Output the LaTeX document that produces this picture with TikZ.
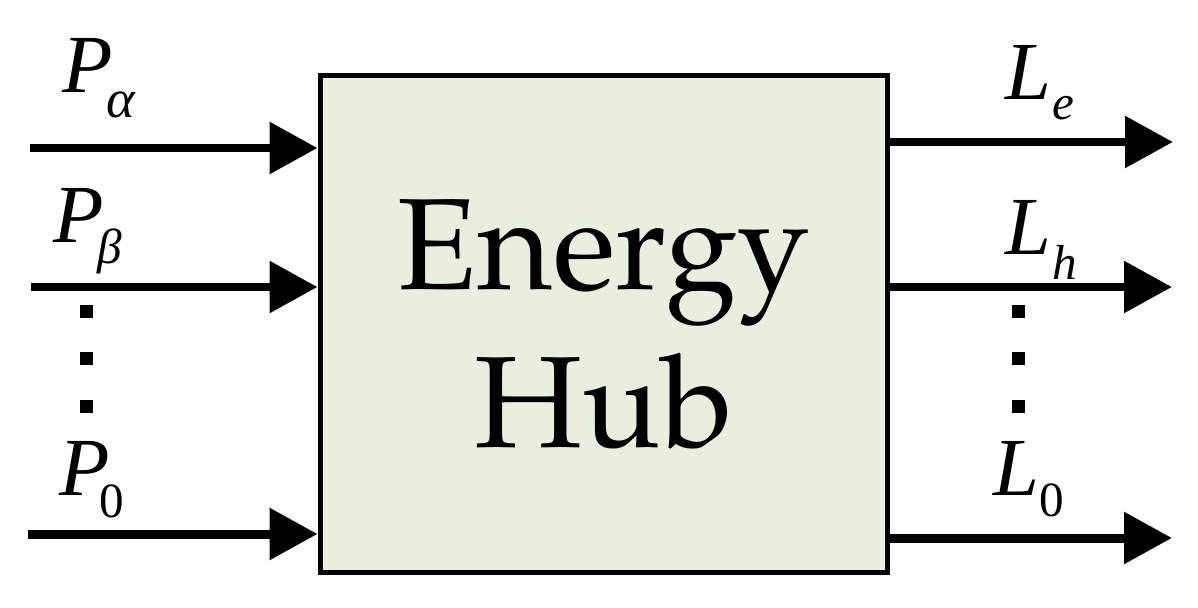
\documentclass[tikz,border=0pt]{standalone}
\usepackage{fontspec}
\setmainfont{Liberation Serif}
\newfontfamily\hubfont{TeX Gyre Pagella}
\usetikzlibrary{arrows.meta,positioning,calc}
\definecolor{hubgreen}{RGB}{232,239,222}
% label with a lowered subscript: main, sub, shift right, drop
\newcommand{\sublabel}[4]{\makebox[0pt][l]{\fontsize{47}{47}\selectfont\itshape #1}\hspace*{#3}\raisebox{-#4}{#2}}
\newcommand{\lettersub}[2][28]{\fontsize{#1}{#1}\selectfont\itshape #2}
\newcommand{\zerosub}{\fontsize{28}{28}\selectfont 0}

\begin{document}
\begin{tikzpicture}[x=0.02cm,y=-0.02cm,
    flow/.style={line width=0.18cm,-{Triangle[length=0.96cm,width=1cm]}},
    lbl/.style={anchor=base west,inner sep=0pt},
    dotmark/.style={fill=black}]
    \useasboundingbox (0,0) rectangle (1198,608);

    % Hub box
    \node[draw, line width=0.1cm, fill=hubgreen, minimum width=11.36cm, minimum height=9.96cm,
          align=center, font=\hubfont\fontsize{74}{90}\selectfont] (hub) at (604,324) {Energy\\Hub};

    % Inputs
    \coordinate (inA) at (30,148);
    \coordinate (inB) at (31,287);
    \coordinate (inO) at (28,534);
    \draw[flow] (inA) -- (inA -| hub.west);
    \draw[flow] (inB) -- (inB -| hub.west);
    \draw[flow] (inO) -- (inO -| hub.west);
    \node[lbl] (pA) at (62,93) {\sublabel{P}{\lettersub[31]{α}}{0.88cm}{0.49cm}};
    \node[lbl] (pB) at (53,242) {\sublabel{P}{\lettersub{β}}{0.88cm}{0.44cm}};
    \node[lbl] (pO) at (59,495) {\sublabel{P}{\zerosub}{0.80cm}{0.46cm}};

    % Outputs
    \coordinate (outE) at (1173,142);
    \coordinate (outH) at (1172,287);
    \coordinate (outO) at (1172,538);
    \draw[flow] (outE -| hub.east) -- (outE);
    \draw[flow] (outH -| hub.east) -- (outH);
    \draw[flow] (outO -| hub.east) -- (outO);
    \node[lbl] (lE) at (1005,100) {\sublabel{L}{\lettersub{e}}{0.94cm}{0.40cm}};
    \node[lbl] (lH) at (1005,255) {\sublabel{L}{\lettersub{h}}{0.94cm}{0.50cm}};
    \node[lbl] (lO) at (993,495) {\sublabel{L}{\zerosub}{0.92cm}{0.44cm}};

    % Dots
    \foreach \y in {311,358,406} {
        \fill[dotmark] (79.5,\y-6.5) rectangle ++(13,13);
        \fill[dotmark] (1011.5,\y-6.5) rectangle ++(13,13);
    }
\end{tikzpicture}
\end{document}
